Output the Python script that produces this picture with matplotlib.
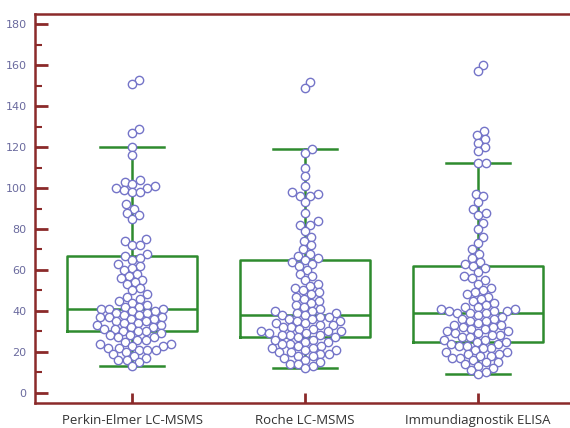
import numpy as np
import matplotlib.pyplot as plt

# --- Data ---
methods = ["Perkin-Elmer LC-MSMS", "Roche LC-MSMS", "Immundiagnostik ELISA"]

perkin_elmer = [153, 151, 129, 127, 120, 116, 104, 103, 102, 101, 100, 100, 99, 98, 98,
                92, 90, 88, 87, 85, 75, 74, 72, 72, 68,
                67, 66, 65, 63, 62, 61, 60, 58, 57, 56, 55, 54, 53, 51, 50, 48, 47, 46,
                45, 44, 43, 42, 42, 41, 41,
                41, 40, 40, 39, 39, 38, 38, 37, 37, 37, 36, 36, 35, 35, 34, 34, 33, 33,
                32, 32, 31, 31, 30, 30, 30,
                29, 28, 28, 27, 27, 26, 26, 25, 24, 24, 23, 23, 22, 22, 21, 21, 21, 20,
                19, 18, 17, 16, 16, 15, 13]
roche = [152, 149, 119, 117, 110, 106, 101, 98, 97, 96, 96, 93, 88, 84, 82, 82, 79, 76,
         74, 72, 70, 68, 67, 66, 65,
         64, 63, 62, 60, 58, 57, 55, 53, 52, 51, 50, 49, 48, 47, 46, 45, 44, 43, 42,
         41, 40, 40, 39, 39, 38,
         38, 37, 37, 36, 36, 35, 35, 34, 34, 33, 33, 32, 32, 31, 31, 30, 30, 30, 29,
         29, 28, 28, 28, 27, 27,
         26, 26, 25, 25, 24, 24, 23, 23, 22, 22, 21, 21, 20, 20, 19, 19, 18, 18, 17,
         16, 15, 14, 14, 13, 12]
elisa = [160, 157, 128, 126, 124, 122, 120, 118, 112, 112, 97, 96, 93, 90, 88, 87, 83,
         80, 76, 73, 70, 68, 66, 64, 63,
         62, 61, 59, 57, 56, 55, 53, 51, 50, 49, 48, 47, 46, 45, 44, 43, 42, 42, 41,
         41, 40, 40, 40, 39, 39,
         39, 38, 37, 36, 36, 35, 35, 34, 33, 33, 32, 32, 31, 31, 30, 30, 29, 29, 28,
         28, 27, 27, 26, 26, 25,
         25, 24, 24, 23, 23, 22, 22, 21, 20, 20, 19, 19, 18, 18, 17, 17, 16, 15, 15,
         14, 13, 12, 11, 10, 9]

# box statistics: low whisker, Q1, median, Q3, high whisker
whisker_low = [13, 12, 9]
q1 = [30, 27, 25]
medians = [41, 38, 39]
q3 = [67, 65, 62]
whisker_high = [120, 119, 112]

yticks = [0, 20, 40, 60, 80, 100, 120, 140, 160, 180]

# --- Figure ---
W, H, DPI = 570, 428, 100
fig = plt.figure(figsize=(W / DPI, H / DPI), dpi=DPI)
ax = fig.add_axes([35 / W, 1 - 403 / H, 534 / W, 389 / H])
ax.set_xlim(0.439, 3.526)
ax.set_ylim(-5, 185)

green = "#2e8b2e"
stats = []
for i in range(3):
    stats.append({"whislo": whisker_low[i], "q1": q1[i], "med": medians[i],
                  "q3": q3[i], "whishi": whisker_high[i], "fliers": []})
ax.bxp(stats, positions=[1, 2, 3], widths=0.75, showfliers=False,
       boxprops=dict(color=green, lw=1.8),
       medianprops=dict(color=green, lw=1.8),
       whiskerprops=dict(color=green, lw=1.8),
       capprops=dict(color=green, lw=1.8), capwidths=0.37)


# --- simple beeswarm in pixel space ---
def swarm(values, d):
    ypx = np.array(values, dtype=float) * (389 / 190)
    order = np.argsort(ypx)
    placed = []
    xs = np.zeros(len(values))
    for idx in order:
        y = ypx[idx]
        cands = [0.0]
        near = [(px, py) for px, py in placed if abs(py - y) < d]
        for px, py in near:
            dx = np.sqrt(max(d * d - (py - y) ** 2, 0))
            cands += [px + dx, px - dx]
        cands.sort(key=abs)
        for c in cands:
            if all((c - px) ** 2 + (y - py) ** 2 >= d * d - 1e-6 for px, py in near):
                xs[idx] = c
                break
        placed.append((xs[idx], y))
    return xs


px_per_unit = 534 / (3.526 - 0.439)
for pos, vals in zip([1, 2, 3], [perkin_elmer, roche, elisa]):
    off = swarm(vals, 8.2) / px_per_unit
    ax.scatter(pos + off, vals, s=36, facecolor="white", edgecolor="#7474c8",
               linewidth=1.0, zorder=3)

# --- axes styling ---
spine_c = "#8b2a2a"
for s in ["left", "bottom", "top"]:
    ax.spines[s].set_color(spine_c)
    ax.spines[s].set_linewidth(1.8)
ax.spines["right"].set_visible(False)

ax.set_yticks(yticks)
ax.set_yticks(range(10, 180, 20), minor=True)
ax.tick_params(axis="y", which="major", direction="in", length=9, width=2,
               color=spine_c, labelcolor="#6a6a9e", labelsize=8, pad=6)
ax.tick_params(axis="y", which="minor", direction="in", length=5, width=1.5,
               color=spine_c)
ax.set_xticks([1, 2, 3])
ax.set_xticklabels(methods, fontfamily="Open Sans", fontsize=9.5)
ax.tick_params(axis="x", direction="in", length=7, width=2, color=spine_c,
               labelcolor="#333333", pad=8)

fig.savefig("out.png", dpi=DPI)
